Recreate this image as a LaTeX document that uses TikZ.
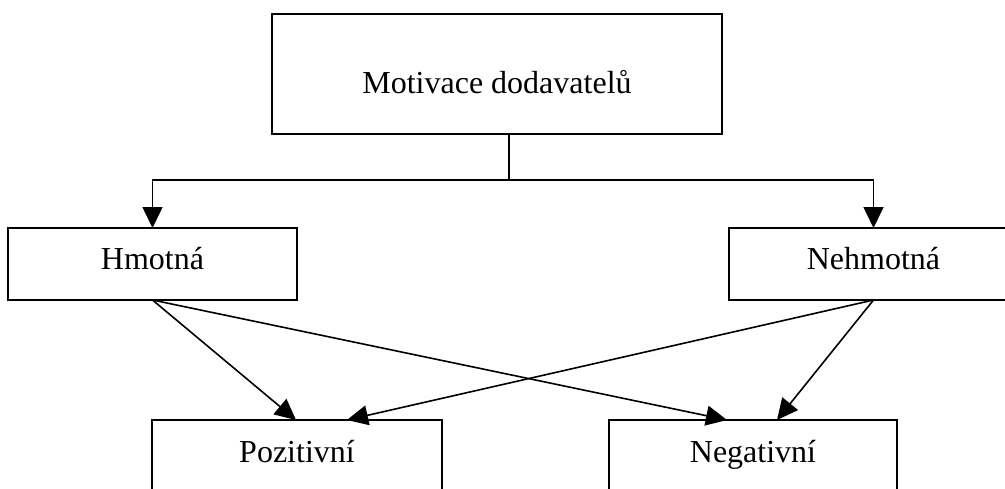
\documentclass[tikz,border=0pt]{standalone}
\usepackage{fontspec}
\setmainfont{Liberation Serif}
\usetikzlibrary{arrows.meta,calc}
\begin{document}
\begin{tikzpicture}[x=1pt,y=-1pt, line width=1.6pt,
  box/.style={draw, rectangle, inner sep=0pt, outer sep=0pt},
  lbl/.style={anchor=base, inner sep=0pt, font=\fontsize{32}{38}\selectfont},
  arr/.style={-{Triangle[length=21pt,width=20pt]}}]
\useasboundingbox (0,0) rectangle (1005,488);
\clip (0,0) rectangle (1005,488);

% boxes
\node[box, minimum width=450pt, minimum height=120pt] (top) at (497,74) {};
\node[box, minimum width=289pt, minimum height=72pt] (hm) at (152.5,264) {};
\node[box, minimum width=289pt, minimum height=72pt] (nh) at (873.5,264) {};
\node[box, minimum width=290pt, minimum height=100pt] (poz) at (297,470) {};
\node[box, minimum width=288pt, minimum height=100pt] (neg) at (753,470) {};

% labels
\node[lbl] (ttop) at (497,93) {Motivace dodavatelů};
\node[lbl] (thm) at (152.5,269) {Hmotná};
\node[lbl] (tnh) at (873.5,269) {Nehmotná};
\node[lbl] (tpoz) at (297,462) {Pozitivní};
\node[lbl] (tneg) at (753,462) {Negativní};

% connectors
\coordinate (j) at (509,180);
\draw (top.south -| j) -- (j);
\draw[arr] (j) -| (hm.north);
\draw[arr] (j) -| (nh.north);
\draw[arr] (hm.south) -- ($(poz.north)+(-1,0)$);
\draw[arr] (hm.south) -- ($(neg.north)+(-26,0)$);
\draw[arr] (nh.south) -- ($(poz.north)+(50,0)$);
\draw[arr] (nh.south) -- ($(neg.north)+(24,0)$);
\end{tikzpicture}
\end{document}
